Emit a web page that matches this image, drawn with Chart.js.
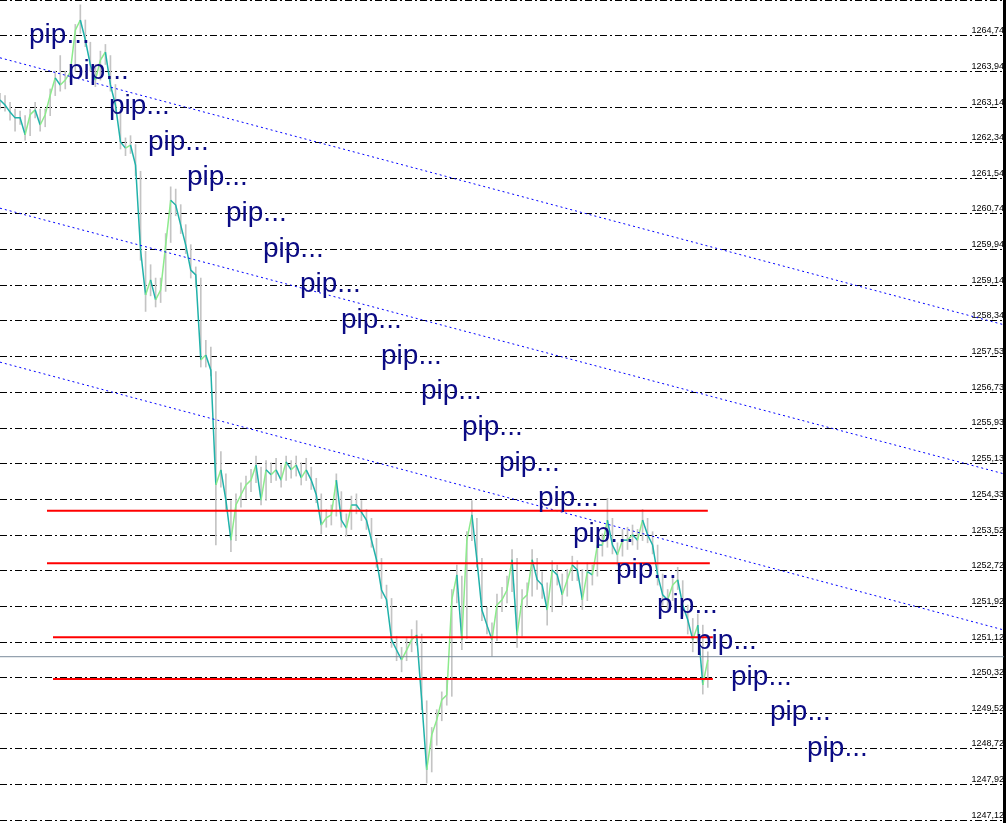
<!DOCTYPE html>
<html><head><meta charset="utf-8">
<script src="https://cdn.jsdelivr.net/npm/chart.js@4"></script>
<style>html,body{margin:0;padding:0;background:#fff;overflow:hidden}canvas{display:block}</style>
</head><body>
<canvas id="c" width="1006" height="823"></canvas>
<script>
// ---- price series (bar index 0..141) ----
const closes = [1263.30,1263.19,1263.03,1262.90,1262.90,1262.52,1262.97,1263.08,1262.74,1262.97,
1263.41,1263.80,1263.64,1263.75,1263.93,1264.87,1265.10,1264.65,1264.09,1263.75,
1264.20,1264.38,1263.64,1263.19,1262.36,1262.22,1262.29,1261.84,1259.93,1258.92,
1259.26,1258.81,1259.03,1260.04,1261.05,1260.94,1260.49,1260.04,1259.48,1259.37,
1257.46,1257.57,1257.23,1254.65,1254.99,1254.31,1253.41,1254.20,1254.43,1254.65,
1254.76,1255.10,1254.31,1254.99,1254.88,1254.99,1254.76,1255.17,1254.99,1255.10,
1254.81,1254.99,1254.76,1254.43,1253.75,1253.91,1253.98,1254.76,1253.86,1253.68,
1254.20,1254.20,1254.04,1253.86,1253.41,1252.97,1252.29,1252.07,1251.17,1250.94,
1250.72,1250.94,1251.17,1251.28,1249.82,1248.25,1249.03,1249.37,1249.82,1249.93,
1252.07,1252.63,1251.17,1253.41,1253.98,1252.97,1251.84,1251.50,1251.17,1251.95,
1252.07,1252.29,1252.97,1251.28,1252.07,1252.18,1252.97,1252.52,1252.40,1251.84,
1252.74,1252.63,1252.18,1252.52,1252.85,1252.74,1252.07,1252.70,1252.63,1253.30,
1253.30,1253.86,1253.30,1253.08,1253.41,1253.41,1253.53,1253.41,1253.86,1253.53,
1253.30,1252.63,1252.18,1252.07,1252.40,1252.52,1251.95,1251.62,1251.17,1251.50,
1250.16,1250.72];
const lows = [1263.10,1263.05,1262.85,1262.60,1262.75,1262.40,1262.50,1262.90,1262.60,1262.70,
1262.95,1263.40,1263.50,1263.55,1263.70,1263.95,1264.80,1264.50,1263.95,1263.60,
1263.75,1264.10,1263.50,1263.00,1262.20,1262.05,1262.10,1261.60,1259.70,1258.55,
1258.90,1258.65,1258.75,1259.00,1260.10,1260.70,1260.30,1259.85,1259.30,1259.10,
1257.30,1257.30,1257.10,1253.30,1254.60,1254.10,1253.15,1253.40,1254.15,1254.35,
1254.50,1254.70,1254.20,1254.30,1254.70,1254.75,1254.60,1254.75,1254.80,1254.85,
1254.65,1254.75,1254.55,1254.25,1253.55,1253.70,1253.75,1253.95,1253.70,1253.50,
1253.65,1254.00,1253.85,1253.65,1253.25,1252.80,1252.10,1251.90,1251.00,1250.70,
1250.45,1250.70,1250.90,1251.05,1249.60,1247.95,1248.20,1248.80,1249.35,1249.70,
1249.90,1252.00,1250.95,1251.20,1253.40,1252.80,1251.60,1251.30,1250.80,1251.15,
1251.80,1252.00,1252.25,1251.00,1251.25,1251.90,1252.15,1252.30,1252.10,1251.50,
1251.80,1252.40,1251.95,1252.15,1252.50,1252.50,1251.85,1252.05,1252.40,1252.60,
1253.05,1253.25,1253.10,1252.85,1253.05,1253.20,1253.30,1253.20,1253.40,1253.35,
1253.10,1252.40,1251.95,1251.80,1252.05,1252.30,1251.70,1251.30,1250.90,1251.10,
1249.95,1250.10];
const highs = [1263.45,1263.40,1263.25,1263.10,1263.05,1262.95,1263.10,1263.25,1263.10,1263.10,
1263.55,1263.95,1264.30,1263.95,1264.10,1265.00,1265.44,1265.10,1264.60,1264.10,
1264.40,1264.55,1264.30,1263.65,1263.10,1262.45,1262.50,1262.30,1261.70,1259.90,
1259.60,1259.30,1259.30,1260.30,1261.35,1261.30,1260.95,1260.50,1260.05,1259.55,
1259.30,1257.90,1257.75,1257.20,1255.40,1254.90,1254.30,1254.45,1254.70,1254.85,
1255.00,1255.30,1255.05,1255.20,1255.15,1255.25,1255.10,1255.30,1255.20,1255.30,
1255.15,1255.25,1255.05,1254.80,1254.45,1254.10,1254.20,1254.90,1254.50,1254.00,
1254.40,1254.45,1254.30,1254.10,1253.90,1253.45,1253.00,1252.40,1252.10,1251.25,
1251.00,1251.20,1251.40,1251.60,1251.30,1249.80,1249.20,1249.60,1250.00,1250.30,
1252.30,1252.85,1252.60,1253.60,1254.30,1253.90,1253.00,1251.90,1251.55,1252.20,
1252.35,1252.60,1253.20,1253.00,1252.30,1252.45,1253.20,1253.00,1252.70,1252.45,
1252.95,1252.85,1252.65,1252.75,1253.05,1252.95,1252.75,1252.90,1252.85,1253.50,
1253.55,1254.35,1253.90,1253.35,1253.65,1253.70,1253.75,1253.65,1254.10,1253.90,
1253.60,1253.30,1252.65,1252.30,1252.60,1252.80,1252.50,1251.95,1251.65,1251.75,
1251.50,1250.90];

// ---- price axis ----
const tickValues = [1247.12,1247.92,1248.72,1249.52,1250.32,1251.12,1251.92,1252.72,1253.52,1254.33,1255.13,1255.93,
1256.73,1257.53,1258.34,1259.14,1259.94,1260.74,1261.54,1262.34,1263.14,1263.94,1264.74,1265.54];
const tickLabels = ['1247,12','1247,92','1248,72','1249,52','1250,32','1251,12','1251,92','1252,72','1253,52','1254,33','1255,13','1255,93',
'1256,73','1257,53','1258,34','1259,14','1259,94','1260,74','1261,54','1262,34','1263,14','1263,94','1264,74',''];
const priceMin = 1247.053, priceMax = 1265.549;
const indexMin = 0, indexMax = 200;

// ---- objects on chart ----
const channelStart = [1264.25, 1260.87, 1257.41];   // at index 0
const channelEnd   = [1258.25, 1254.90, 1251.39];   // at index 200
const levelPrices = [1254.07, 1252.89, 1251.23, 1250.29];
const levelFrom   = [9.36, 9.36, 10.56, 10.56];
const levelTo     = [141.0, 141.4, 142.0, 142.0];
const bidPrice = 1250.79;
const pipText = 'pip...';
const pipX = [5.78,13.55,21.71,29.48,37.25,45.02,52.39,59.76,67.93,75.90,83.86,92.03,99.40,107.17,114.14,122.71,130.88,138.65,145.62,153.39,160.76];
const pipPrice = [1264.74,1263.94,1263.14,1262.34,1261.54,1260.74,1259.94,1259.14,1258.34,1257.53,1256.73,1255.93,1255.13,1254.33,1253.52,1252.72,1251.92,1251.12,1250.32,1249.52,1248.72];

const datasets = [];
// red levels (on top)
levelPrices.forEach((p, k) => datasets.push({
  type: 'line', data: [{x: levelFrom[k], y: p}, {x: levelTo[k], y: p}],
  borderColor: '#FF0000', borderWidth: 2, pointRadius: 0
}));
// blue channel lines
channelStart.forEach((p, k) => datasets.push({
  type: 'line', data: [{x: indexMin, y: p}, {x: indexMax, y: channelEnd[k]}],
  borderColor: '#0000FF', borderWidth: 1, borderDash: [2, 3], pointRadius: 0
}));
// bid line
datasets.push({type: 'line', data: [{x: indexMin, y: bidPrice}, {x: indexMax, y: bidPrice}],
  borderColor: '#7B8B9B', borderWidth: 1, pointRadius: 0});
// pip labels anchor
datasets.push({type: 'scatter', id: 'pip', data: pipX.map((x, i) => ({x, y: pipPrice[i]})),
  pointRadius: 0, showLine: false});
// close line
datasets.push({type: 'line', data: closes.map((c, i) => ({x: i, y: c})),
  borderWidth: 1.5, pointRadius: 0, borderColor: '#20B2AA',
  segment: {borderColor: s => s.p1.parsed.y > s.p0.parsed.y ? '#8CEB8C' : '#20B2AA'}});
// high-low wicks
datasets.push({type: 'bar', data: closes.map((c, i) => ({x: i, y: [lows[i], highs[i]]})),
  backgroundColor: '#C4C4C4', borderWidth: 0, barThickness: 1});

const pipPlugin = {
  id: 'pipLabels',
  afterDatasetsDraw(chart) {
    const idx = chart.data.datasets.findIndex(d => d.id === 'pip');
    const meta = chart.getDatasetMeta(idx);
    const ctx = chart.ctx;
    ctx.save();
    ctx.font = '28px "Liberation Sans", Arial, sans-serif';
    ctx.fillStyle = '#0B0B84';
    ctx.textAlign = 'left';
    ctx.textBaseline = 'alphabetic';
    meta.data.forEach(pt => ctx.fillText(pipText, pt.x, pt.y + 7));
    ctx.restore();
  }
};

new Chart(document.getElementById('c'), {
  type: 'line',
  data: {datasets},
  options: {
    responsive: false, animation: false, events: [],
    layout: {padding: {left: 0, right: 2, top: 0, bottom: 0}},
    plugins: {legend: {display: false}, tooltip: {enabled: false}},
    scales: {
      x: {type: 'linear', min: indexMin, max: indexMax, display: false, offset: false},
      y: {
        type: 'linear', position: 'right', min: priceMin, max: priceMax,
        afterBuildTicks: s => { s.ticks = tickValues.map(v => ({value: v})); },
        afterFit: s => { s.paddingTop = 0; s.paddingBottom = 0; },
        grid: {color: '#000000', lineWidth: 1, drawTicks: false},
        border: {display: true, color: '#000000', width: 3, dash: [7, 3, 2, 3]},
        ticks: {
          mirror: true, padding: 0, crossAlign: 'near', labelOffset: -5, autoSkip: false,
          color: '#000000', font: {family: '"Liberation Sans", Arial, sans-serif', size: 9},
          callback: (v, i) => tickLabels[i]
        }
      }
    }
  },
  plugins: [pipPlugin]
});
</script>
</body></html>
